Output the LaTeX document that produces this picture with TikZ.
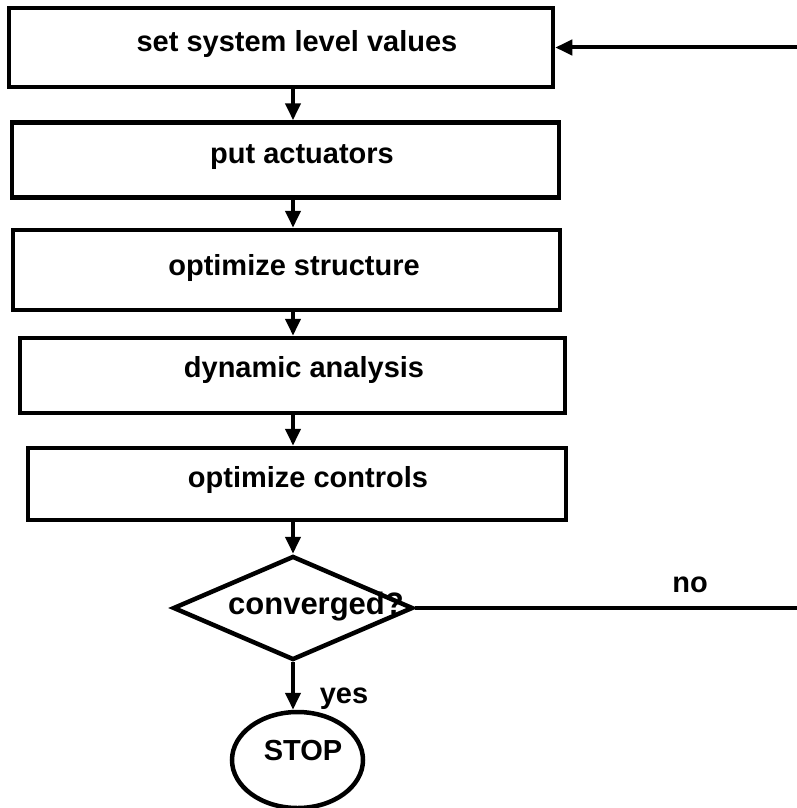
\documentclass[tikz,border=0pt]{standalone}
\usepackage{fontspec}
\setmainfont{Liberation Sans}
\usetikzlibrary{shapes.geometric,arrows.meta}
\begin{document}
\begin{tikzpicture}[x=1pt,y=-1pt,
  txt/.style={font=\bfseries\fontsize{29}{33}\selectfont},
  stepbox/.style={draw,line width=4.5pt,inner sep=0pt},
  lbl/.style={txt,inner sep=0pt,anchor=base},
  arr/.style={line width=4pt,-{Triangle[width=15pt,length=17pt]}}]
\useasboundingbox (0,0) rectangle (797,808);
\node[stepbox,minimum width=544pt,minimum height=79pt] (b1) at (281,47.5) {};
\node[stepbox,minimum width=547pt,minimum height=75pt] (b2) at (285.5,160) {};
\node[stepbox,minimum width=547pt,minimum height=80pt] (b3) at (286.5,270) {};
\node[stepbox,minimum width=545pt,minimum height=75pt] (b4) at (292.5,375.5) {};
\node[stepbox,minimum width=538pt,minimum height=72pt] (b5) at (297,484) {};
\node[lbl] (t1) at (297,52) {set system level values};
\node[lbl] (t2) at (302,163) {put actuators};
\node[lbl] (t3) at (294,275) {optimize structure};
\node[lbl] (t4) at (304,377) {dynamic analysis};
\node[lbl] (t5) at (308,487) {optimize controls};
\node[diamond,draw,line width=4.5pt,inner sep=0pt,minimum width=240pt,minimum height=104pt,shape aspect=2.3] (d) at (293,608) {};
\node[lbl,font=\bfseries\fontsize{31}{35}\selectfont] (dt) at (316,614) {converged?};
\node[ellipse,draw,line width=4.5pt,inner sep=0pt,minimum width=131pt,minimum height=96pt] (s) at (297.5,760) {};
\node[lbl] (st) at (303,760) {STOP};
\node[lbl] (no) at (690,592) {no};
\node[lbl] (yes) at (344,703) {yes};
\coordinate (cr) at (801,608);
\draw[arr] (b1.south -| d.north) -- (b2.north -| d.north);
\draw[arr] (b2.south -| d.north) -- (b3.north -| d.north);
\draw[arr] (b3.south -| d.north) -- (b4.north -| d.north);
\draw[arr] (b4.south -| d.north) -- (b5.north -| d.north);
\draw[arr] (b5.south -| d.north) -- (d.north);
\draw[arr] (d.south) -- (s.north -| d.south);
\draw[arr] (d.east) -- (d.east -| cr) |- (b1.east);
\end{tikzpicture}
\end{document}
